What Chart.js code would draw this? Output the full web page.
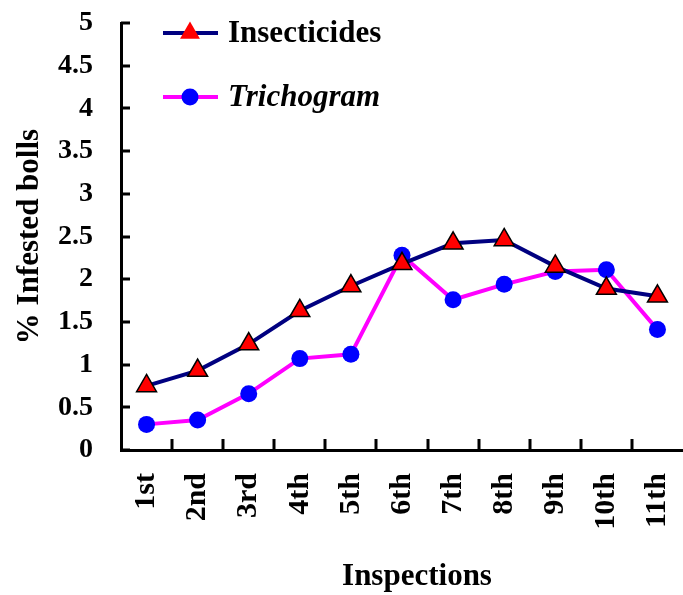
<!DOCTYPE html>
<html>
<head>
<meta charset="utf-8">
<script src="https://cdn.jsdelivr.net/npm/chart.js@4"></script>
<style>
  html, body { margin: 0; padding: 0; background: #fff; overflow: hidden; }
  canvas { display: block; }
</style>
</head>
<body>
<canvas id="chart" width="696" height="595"></canvas>
<script>
// inspection rounds and % infested bolls
const inspections = ['1st', '2nd', '3rd', '4th', '5th', '6th', '7th', '8th', '9th', '10th', '11th'];
const insecticides = [0.75, 0.93, 1.24, 1.63, 1.92, 2.18, 2.42, 2.46, 2.15, 1.89, 1.80];
const trichogram = [0.30, 0.35, 0.66, 1.07, 1.12, 2.28, 1.76, 1.94, 2.09, 2.11, 1.41];
const seriesNames = ['Insecticides', 'Trichogram'];
const xTitle = 'Inspections';

const serif = "'Liberation Serif', 'Times New Roman', serif";

// tick marks point into the plot on both axes
const innerTicks = {
  id: 'innerTicks',
  beforeDatasetsDraw(chart){
    const {ctx, scales:{x, y}} = chart;
    ctx.save();
    ctx.strokeStyle = '#000';
    ctx.lineWidth = 3;
    ctx.beginPath();
    for (let i=1; i<x.ticks.length; i++){
      const px = Math.round((x.getPixelForTick(i-1) + x.getPixelForTick(i))/2);
      ctx.moveTo(px, y.bottom); ctx.lineTo(px, y.bottom - 11);
    }
    y.ticks.forEach(t=>{
      const py = Math.round(y.getPixelForValue(t.value));
      ctx.moveTo(x.left, py); ctx.lineTo(x.left + 9, py);
    });
    ctx.stroke();
    ctx.restore();
  }
};

// legend sits inside the plot, top-left; x title sits a bit right of the axis centre
const insetLegend = {
  id: 'insetLegend',
  afterDraw(chart){
    const ctx = chart.ctx;
    const rows = [33, 97];
    chart.data.datasets.forEach((ds, i)=>{
      const y = rows[i];
      ctx.save();
      ctx.strokeStyle = ds.borderColor;
      ctx.lineWidth = ds.borderWidth;
      ctx.beginPath();
      ctx.moveTo(163, y); ctx.lineTo(218, y);
      ctx.stroke();
      ctx.fillStyle = ds.pointBackgroundColor;
      ctx.strokeStyle = ds.pointBorderColor;
      ctx.lineWidth = ds.pointBorderWidth;
      Chart.helpers.drawPoint(ctx, {pointStyle: ds.pointStyle, radius: ds.pointRadius, rotation: 0}, 190, y);
      ctx.fillStyle = '#000';
      ctx.textBaseline = 'middle';
      ctx.textAlign = 'left';
      ctx.font = (i === 1 ? 'italic ' : '') + 'bold 31px ' + serif;
      ctx.fillText(ds.label, 228, y + 1);
      ctx.restore();
    });
    ctx.save();
    ctx.fillStyle = '#000';
    ctx.textAlign = 'center';
    ctx.textBaseline = 'middle';
    ctx.font = 'bold 31px ' + serif;
    ctx.fillText(xTitle, 417, 577);
    ctx.restore();
  }
};

const ctx = document.getElementById('chart').getContext('2d');
new Chart(ctx, {
  type: 'line',
  data: {
    labels: inspections,
    datasets: [
      {
        label: seriesNames[0], data: insecticides,
        borderColor: '#000080', borderWidth: 4,
        pointStyle: 'triangle', pointRadius: 11.5, pointHoverRadius: 11.5,
        pointBackgroundColor: '#ff0000', pointBorderColor: '#000', pointBorderWidth: 1.5,
        tension: 0
      },
      {
        label: seriesNames[1], data: trichogram,
        borderColor: '#ff00ff', borderWidth: 4,
        pointStyle: 'circle', pointRadius: 8.5, pointHoverRadius: 8.5,
        pointBackgroundColor: '#0000ff', pointBorderColor: '#0000ff', pointBorderWidth: 0,
        tension: 0
      }
    ]
  },
  options: {
    responsive: false,
    animation: false,
    devicePixelRatio: 1,
    layout: { padding: { top: 23, right: 0, bottom: 0, left: 0 } },
    plugins: { legend: { display: false }, tooltip: { enabled: false } },
    scales: {
      x: {
        offset: true,
        border: { color: '#000', width: 3 },
        grid: { offset: true, drawOnChartArea: false, drawTicks: false },
        ticks: {
          color: '#000', font: { family: serif, weight: 'bold', size: 30 },
          minRotation: 90, maxRotation: 90, padding: 23, autoSkip: false
        },
        title: { display: false },
        afterFit(s){ s.height = 145; s.paddingLeft = 0; s.paddingRight = 0; }
      },
      y: {
        min: 0, max: 5,
        border: { color: '#000', width: 3 },
        grid: { drawOnChartArea: false, drawTicks: false },
        ticks: {
          stepSize: 0.5, color: '#000', padding: 28,
          font: { family: serif, weight: 'bold', size: 28 },
          callback: v => String(Number(v))
        },
        title: {
          display: true, text: '% Infested bolls', color: '#000',
          font: { family: serif, weight: 'bold', size: 31 }, padding: { top: 11, bottom: 0 }
        },
        afterFit(s){ s.width = 121; s.paddingTop = 0; s.paddingBottom = 0; }
      }
    }
  },
  plugins: [innerTicks, insetLegend]
});
</script>
</body>
</html>
